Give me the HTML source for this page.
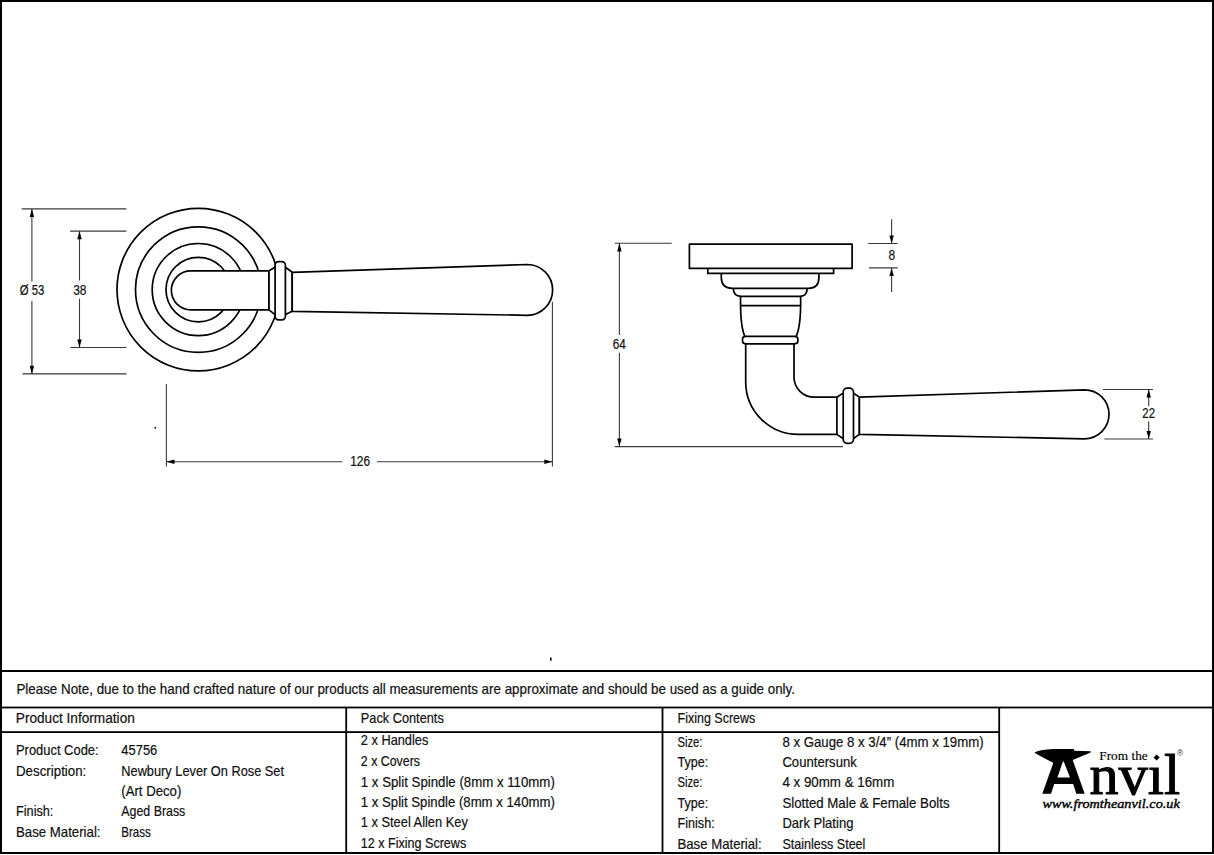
<!DOCTYPE html>
<html><head><meta charset="utf-8">
<style>
html,body{margin:0;padding:0;background:#fff;width:1214px;height:855px;overflow:hidden}
svg{display:block}
text{font-family:"Liberation Sans",sans-serif;fill:#111}
.t{font-size:13.9px;stroke:#111;stroke-width:0.2px}
.d{font-size:13.8px;stroke:#111;stroke-width:0.2px}
.dim{stroke:#3a3a3a;stroke-width:1.1;fill:none}
.ol{stroke:#000;stroke-width:1.7;fill:none;stroke-linejoin:round}
.ol.w,.ol .w{fill:#fff}
.g{stroke:#000;fill:none}
</style></head><body>
<svg width="1214" height="855" viewBox="0 0 1214 855">
<rect x="0" y="0" width="1214" height="855" fill="#fff"/>
<!-- outer border -->
<rect x="1" y="1" width="1212" height="852" fill="none" stroke="#000" stroke-width="2"/>

<!-- ===== LEFT VIEW ===== -->
<g class="ol">
  <circle cx="198.3" cy="289.6" r="81.3"/>
  <circle cx="198.3" cy="289.6" r="62.8"/>
  <circle cx="198.3" cy="289.6" r="46.1"/>
  <circle cx="198.3" cy="289.6" r="32.3"/>
</g>
<!-- shank -->
<path d="M269,270.8 L190.9,270.8 A19.55,19.55 0 0 0 190.9,309.9 L269,309.9 Z" class="ol w"/>
<!-- collar -->
<path d="M269,270.8 L275,267.3 L285.4,267.3 L292.2,272.3 L292.2,311.3 L285.4,314.6 L275,314.6 L269,309.9 Z" class="ol w"/>
<rect x="275.1" y="261.7" width="10.3" height="58.1" rx="3.5" class="ol w"/>
<!-- handle -->
<path d="M292.2,272.3 L527.2,264.5 A25.4,25.4 0 0 1 527.2,315.3 L292.2,311.3 Z" class="ol w"/>

<!-- dims left -->
<g class="dim">
  <path d="M21.7,208.9 H126.4 M22.4,373.9 H126.5 M70,231.1 H126.4 M70.4,347.5 H126.5"/>
  <path d="M31.9,208.9 V281.5 M31.9,300.9 V373.9"/>
  <path d="M79.5,231.1 V280.5 M79.5,298.8 V347.5"/>
  <path d="M166.4,384 V466.4 M552.4,302 V466.4"/>
  <path d="M166.4,461.8 H342.4 M377,461.8 H552.4"/>
</g>
<g fill="#000">
  <path d="M31.9,208.9 L29.7,217 L34.1,217 Z"/>
  <path d="M31.9,373.9 L29.7,365.8 L34.1,365.8 Z"/>
  <path d="M79.5,231.1 L77.3,239.2 L81.7,239.2 Z"/>
  <path d="M79.5,347.5 L77.3,339.4 L81.7,339.4 Z"/>
  <path d="M166.4,461.8 L174.5,459.6 L174.5,464 Z"/>
  <path d="M552.4,461.8 L544.3,459.6 L544.3,464 Z"/>
  <rect x="154.5" y="427" width="1.6" height="1.6"/>
  <rect x="550" y="657.5" width="1.6" height="3.2"/>
</g>
<text class="d" x="19.8" y="295" textLength="24.6" lengthAdjust="spacingAndGlyphs">Ø 53</text>
<text class="d" x="73.2" y="295" textLength="13.3" lengthAdjust="spacingAndGlyphs">38</text>
<text class="d" x="350.2" y="466.4" textLength="19.8" lengthAdjust="spacingAndGlyphs">126</text>

<!-- ===== RIGHT VIEW ===== -->
<g class="ol" fill="#fff">
  <rect x="689.4" y="244.1" width="162.7" height="24.3" fill="#fff"/>
  <path d="M707.8,268.4 V273.4 H833.6 V268.4"/>
  <path d="M721.3,273.4 V277.5 Q721.3,288.3 732.4,288.3 H808.6 Q818.9,288.3 818.9,277.5 V273.4"/>
  <path d="M733.3,288.3 Q733.3,296.3 741,296.3 H800 Q807.2,296.3 807.2,288.3"/>
  <path d="M740.6,296.3 C740.2,316 741.2,328 744.8,336.3 M800.6,296.3 C801,316 800,328 796.2,336.3"/>
  <path d="M740.6,305.7 H800.6"/>
  <rect x="742.5" y="336.3" width="55.4" height="7.5" rx="3" fill="#fff"/>
  <path d="M745.7,343.8 V382 A52.5,52.5 0 0 0 798.2,434.4 H836.9"/>
  <path d="M794,343.8 V377.3 A20.5,20 0 0 0 814.9,397.2 L836.9,397.2"/>
  <path d="M836.9,397.2 V434.4 M836.9,397.2 L843,393.1 M836.9,434.4 L843,438.5 M853.5,393.1 L859.4,397.2 M853.5,438.5 L859.4,434.4 M859.4,397.2 V434.4"/>
  <rect x="843.2" y="388.1" width="10.3" height="55.2" rx="4" fill="#fff"/>
  <path d="M859.4,397.2 L1084.5,389.8 A24.5,24.5 0 0 1 1084.5,438.8 L859.4,434.4 Z" fill="#fff"/>
</g>

<g class="dim">
  <path d="M614.8,243.3 H671.7 M614.8,446.6 H843"/>
  <path d="M619.4,243.3 V335 M619.4,352.8 V446.6"/>
  <path d="M868.2,243.5 H897.7 M869,267.9 H897.7"/>
  <path d="M891.6,219.3 V243.5 M891.6,267.9 V292"/>
  <path d="M1103,389.5 H1153 M1104.4,439 H1153"/>
  <path d="M1148.7,389.5 V406 M1148.7,421.4 V439"/>
</g>
<g fill="#000">
  <path d="M619.4,243.3 L617.2,251.4 L621.6,251.4 Z"/>
  <path d="M619.4,446.6 L617.2,438.5 L621.6,438.5 Z"/>
  <path d="M891.6,243.5 L889.4,235.4 L893.8,235.4 Z"/>
  <path d="M891.6,267.9 L889.4,276 L893.8,276 Z"/>
  <path d="M1148.7,389.5 L1146.5,397.6 L1150.9,397.6 Z"/>
  <path d="M1148.7,439 L1146.5,430.9 L1150.9,430.9 Z"/>
</g>
<text class="d" x="612.8" y="349.2" textLength="13.1" lengthAdjust="spacingAndGlyphs">64</text>
<text class="d" x="888.4" y="260.3" textLength="6.6" lengthAdjust="spacingAndGlyphs">8</text>
<text class="d" x="1142.3" y="418.2" textLength="12.7" lengthAdjust="spacingAndGlyphs">22</text>

<!-- ===== TABLE ===== -->
<g fill="#000">
  <rect x="0" y="670" width="1214" height="2"/>
  <rect x="0" y="706.6" width="1214" height="1.8"/>
  <rect x="0" y="731.2" width="1000" height="1.8"/>
  <rect x="345.3" y="707" width="1.8" height="146"/>
  <rect x="661.6" y="707" width="1.8" height="146"/>
  <rect x="998.3" y="707" width="1.8" height="146"/>
</g>

<text class="t" x="16.4" y="693.8" textLength="778.6" lengthAdjust="spacingAndGlyphs">Please Note, due to the hand crafted nature of our products all measurements are approximate and should be used as a guide only.</text>

<text class="t" x="15.8" y="723" textLength="119" lengthAdjust="spacingAndGlyphs">Product Information</text>
<text class="t" x="360.8" y="723" textLength="83" lengthAdjust="spacingAndGlyphs">Pack Contents</text>
<text class="t" x="677.5" y="723" textLength="77.8" lengthAdjust="spacingAndGlyphs">Fixing Screws</text>

<text class="t" x="16" y="755" textLength="82.6" lengthAdjust="spacingAndGlyphs">Product Code:</text>
<text class="t" x="121.3" y="755" textLength="36" lengthAdjust="spacingAndGlyphs">45756</text>
<text class="t" x="16" y="775.5" textLength="70.3" lengthAdjust="spacingAndGlyphs">Description:</text>
<text class="t" x="121.3" y="775.5" textLength="162.7" lengthAdjust="spacingAndGlyphs">Newbury Lever On Rose Set</text>
<text class="t" x="121.3" y="795.8" textLength="60" lengthAdjust="spacingAndGlyphs">(Art Deco)</text>
<text class="t" x="16" y="816.2" textLength="37.4" lengthAdjust="spacingAndGlyphs">Finish:</text>
<text class="t" x="121.3" y="816.2" textLength="64" lengthAdjust="spacingAndGlyphs">Aged Brass</text>
<text class="t" x="16" y="836.6" textLength="84.5" lengthAdjust="spacingAndGlyphs">Base Material:</text>
<text class="t" x="121.3" y="836.6" textLength="29.6" lengthAdjust="spacingAndGlyphs">Brass</text>

<text class="t" x="360.8" y="745.4" textLength="67.5" lengthAdjust="spacingAndGlyphs">2 x Handles</text>
<text class="t" x="360.8" y="765.9" textLength="59.2" lengthAdjust="spacingAndGlyphs">2 x Covers</text>
<text class="t" x="360.8" y="786.5" textLength="194" lengthAdjust="spacingAndGlyphs">1 x Split Spindle (8mm x 110mm)</text>
<text class="t" x="360.8" y="807" textLength="194" lengthAdjust="spacingAndGlyphs">1 x Split Spindle (8mm x 140mm)</text>
<text class="t" x="360.8" y="827.3" textLength="107" lengthAdjust="spacingAndGlyphs">1 x Steel Allen Key</text>
<text class="t" x="360.8" y="847.8" textLength="105.4" lengthAdjust="spacingAndGlyphs">12 x Fixing Screws</text>

<text class="t" x="677.5" y="747" textLength="25" lengthAdjust="spacingAndGlyphs">Size:</text>
<text class="t" x="782.4" y="747" textLength="201.2" lengthAdjust="spacingAndGlyphs">8 x Gauge 8 x 3/4” (4mm x 19mm)</text>
<text class="t" x="677.5" y="767.2" textLength="30.8" lengthAdjust="spacingAndGlyphs">Type:</text>
<text class="t" x="782.4" y="767.2" textLength="74.4" lengthAdjust="spacingAndGlyphs">Countersunk</text>
<text class="t" x="677.5" y="787.3" textLength="25" lengthAdjust="spacingAndGlyphs">Size:</text>
<text class="t" x="782.4" y="787.3" textLength="111.9" lengthAdjust="spacingAndGlyphs">4 x 90mm &amp; 16mm</text>
<text class="t" x="677.5" y="807.5" textLength="30.8" lengthAdjust="spacingAndGlyphs">Type:</text>
<text class="t" x="782.4" y="807.5" textLength="167.2" lengthAdjust="spacingAndGlyphs">Slotted Male &amp; Female Bolts</text>
<text class="t" x="677.5" y="828.3" textLength="37.2" lengthAdjust="spacingAndGlyphs">Finish:</text>
<text class="t" x="782.4" y="828.3" textLength="71" lengthAdjust="spacingAndGlyphs">Dark Plating</text>
<text class="t" x="677.5" y="848.5" textLength="84.2" lengthAdjust="spacingAndGlyphs">Base Material:</text>
<text class="t" x="782.4" y="848.5" textLength="83" lengthAdjust="spacingAndGlyphs">Stainless Steel</text>

<!-- ===== LOGO ===== -->
<g fill="#000">
  <!-- anvil top -->
  <path d="M1034.8,752.2 Q1041,749.6 1053,749.1 L1073.6,749.1 L1074.4,750.8 L1091,751.3 L1090.2,752.7 L1072.6,760 L1053.6,763 Q1043,757.5 1034.8,752.9 Z"/>
  <!-- A letter -->
  <path d="M1054,761 L1072.3,759 L1084.7,793.7 L1076.3,793.7 L1073.2,783.9 L1054.2,783.9 L1051,793.7 L1042.3,793.7 Z M1063.3,760.4 L1057.4,777.5 L1070,777.5 Z" fill-rule="evenodd"/>
  <rect x="1154.4" y="755.3" width="4.4" height="4.4" transform="rotate(45 1156.6 757.5)"/>
</g>
<text x="1099.3" y="760.3" textLength="48.4" lengthAdjust="spacingAndGlyphs" style="font-family:'Liberation Serif',serif;font-size:13.5px;fill:#000;stroke:#000;stroke-width:0.15px">From the</text>
<text x="1089.6" y="793.9" textLength="90.5" lengthAdjust="spacingAndGlyphs" style="font-family:'Liberation Serif',serif;font-size:58px;fill:#000;stroke:#000;stroke-width:1px">nvıl</text>
<text x="1042.4" y="807.7" textLength="137.4" lengthAdjust="spacingAndGlyphs" style="font-family:'Liberation Serif',serif;font-style:italic;font-size:11.5px;fill:#000;stroke:#000;stroke-width:0.35px">www.fromtheanvil.co.uk</text>
<text x="1176.9" y="756.3" style="font-family:'Liberation Sans',sans-serif;font-size:8.5px;fill:#333">®</text>
</svg>
</body></html>
